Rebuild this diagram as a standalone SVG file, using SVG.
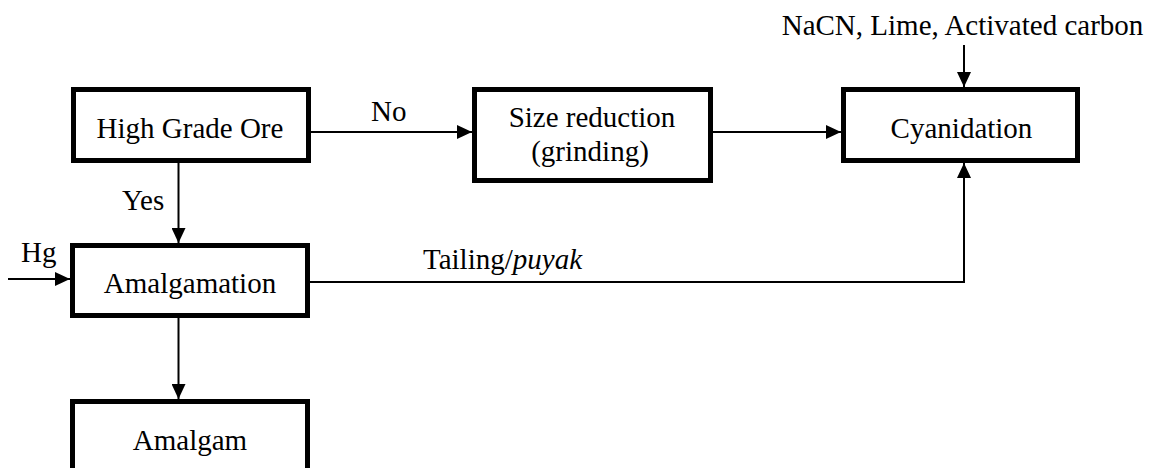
<svg xmlns="http://www.w3.org/2000/svg" width="1153" height="468" viewBox="0 0 1153 468">
  <defs>
    <style>
      .box { fill: #ffffff; stroke: #000000; stroke-width: 5; }
      .lbl { font-family: "Liberation Serif", "Times New Roman", serif; font-size: 29px; fill: #000000; }
      .mid { text-anchor: middle; }
      .conn { fill: none; stroke: #000000; stroke-width: 2; }
    </style>
    <marker id="arrow" markerUnits="userSpaceOnUse" markerWidth="15" markerHeight="14" refX="15" refY="7" orient="auto">
      <path d="M0,0 L15,7 L0,14 z" fill="#000000"/>
    </marker>
  </defs>
  <rect width="1153" height="468" fill="#ffffff"/>

  <g id="connectors">
    <line class="conn" x1="311" y1="132" x2="472" y2="132" marker-end="url(#arrow)"/>
    <line class="conn" x1="713" y1="132" x2="841" y2="132" marker-end="url(#arrow)"/>
    <line class="conn" x1="964" y1="45" x2="964" y2="87" marker-end="url(#arrow)"/>
    <line class="conn" x1="178.5" y1="161" x2="178.5" y2="243" marker-end="url(#arrow)"/>
    <line class="conn" x1="8" y1="279" x2="70" y2="279" marker-end="url(#arrow)"/>
    <line class="conn" x1="178.5" y1="316" x2="178.5" y2="399" marker-end="url(#arrow)"/>
    <polyline class="conn" points="310,282 964,282 964,163" marker-end="url(#arrow)"/>
  </g>

  <g id="high-grade-ore">
    <rect class="box" x="73.5" y="89.5" width="235" height="71"/>
    <text class="lbl mid" x="190" y="138">High Grade Ore</text>
  </g>

  <g id="size-reduction">
    <rect class="box" x="474.5" y="89.5" width="236" height="91"/>
    <text class="lbl mid" x="592" y="127">Size reduction</text>
    <text class="lbl mid" x="590" y="161">(grinding)</text>
  </g>

  <g id="cyanidation">
    <rect class="box" x="843.5" y="89.5" width="234" height="71"/>
    <text class="lbl mid" x="961.5" y="138">Cyanidation</text>
  </g>

  <g id="amalgamation">
    <rect class="box" x="72.5" y="245.5" width="235" height="70"/>
    <text class="lbl mid" x="190" y="293">Amalgamation</text>
  </g>

  <g id="amalgam">
    <rect class="box" x="72.5" y="401.5" width="235" height="75"/>
    <text class="lbl mid" x="190" y="450">Amalgam</text>
  </g>

  <g id="labels">
    <text class="lbl mid" x="962.5" y="35">NaCN, Lime, Activated carbon</text>
    <text class="lbl" x="371" y="121">No</text>
    <text class="lbl" x="122" y="210">Yes</text>
    <text class="lbl" x="21" y="262">Hg</text>
    <text class="lbl" x="423" y="269">Tailing/<tspan font-style="italic">puyak</tspan></text>
  </g>
</svg>
